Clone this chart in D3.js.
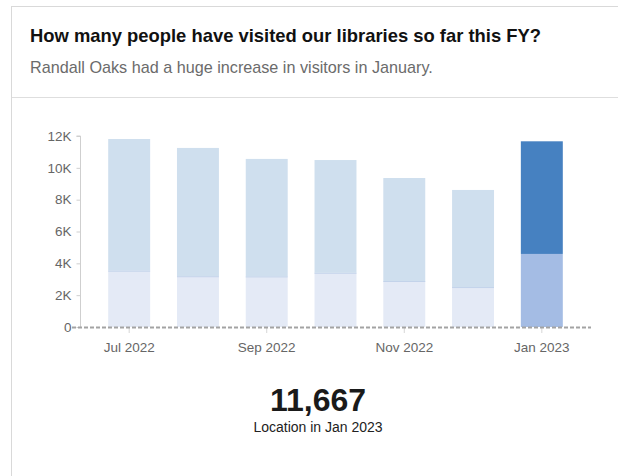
<!DOCTYPE html>
<html>
<head>
<meta charset="utf-8">
<script src="https://cdn.jsdelivr.net/npm/d3@7/dist/d3.min.js"></script>
<style>
  html, body { margin: 0; padding: 0; background: #fff; }
  svg { display: block; font-family: "Liberation Sans", Arial, sans-serif; }
</style>
</head>
<body>
<svg id="chart" width="618" height="476"></svg>
<script>
// Monthly visitor counts, FY to date
const months = ["2022-07", "2022-08", "2022-09", "2022-10", "2022-11", "2022-12", "2023-01"];
const lowerVisits = [3540, 3190, 3180, 3410, 2890, 2510, 4590];
const upperVisits = [8270, 8060, 7380, 7080, 6470, 6100, 7077];
const yTicks = [0, 2000, 4000, 6000, 8000, 10000, 12000];
const xTickMonths = ["2022-07", "2022-09", "2022-11", "2023-01"];
const highlightMonth = "2023-01";

const title = "How many people have visited our libraries so far this FY?";
const subtitle = "Randall Oaks had a huge increase in visitors in January.";
const calloutCaption = "Location in Jan 2023";

const svg = d3.select("#chart");
const W = 618, H = 476;

// card frame and header
svg.append("rect")
  .attr("x", 11.5).attr("y", 6.5)
  .attr("width", W).attr("height", H)
  .attr("fill", "#fff").attr("stroke", "#d9d9d9");
svg.append("line")
  .attr("x1", 12).attr("x2", W).attr("y1", 97.5).attr("y2", 97.5)
  .attr("stroke", "#dedede");
svg.append("text")
  .attr("x", 30).attr("y", 42)
  .attr("font-size", 18.4).attr("font-weight", "bold").attr("fill", "#111")
  .text(title);
svg.append("text")
  .attr("x", 30).attr("y", 73)
  .attr("font-size", 16.2).attr("fill", "#6b6b6b")
  .text(subtitle);

// plot
const parse = d3.timeParse("%Y-%m");
const fmtMonth = d3.timeFormat("%b %Y");
const rows = months.map((m, i) => ({ month: m, lower: lowerVisits[i], upper: upperVisits[i] }));
const stacked = d3.stack().keys(["lower", "upper"])(rows);

const x = d3.scaleBand()
  .domain(months)
  .range([80, 591])
  .paddingInner(0.39)
  .paddingOuter(0.41);
const y = d3.scaleLinear()
  .domain([0, 12000])
  .range([327, 136]);

const fills = {
  lower: { normal: "#e4eaf6", highlight: "#a4bce4" },
  upper: { normal: "#cfdfee", highlight: "#4681c1" }
};

stacked.forEach(layer => {
  const key = layer.key;
  svg.append("g").selectAll("rect")
    .data(layer)
    .join("rect")
    .attr("x", d => x(d.data.month))
    .attr("width", x.bandwidth())
    .attr("y", d => y(d[1]))
    .attr("height", d => y(d[0]) - y(d[1]))
    .attr("fill", d => d.data.month === highlightMonth ? fills[key].highlight : fills[key].normal);
});

// thin divider at the top of the lower segment on the regular bars
svg.append("g").selectAll("line")
  .data(stacked[0].filter(d => d.data.month !== highlightMonth))
  .join("line")
  .attr("x1", d => x(d.data.month))
  .attr("x2", d => x(d.data.month) + x.bandwidth())
  .attr("y1", d => y(d[1]) + 0.5)
  .attr("y2", d => y(d[1]) + 0.5)
  .attr("stroke", "#c3d3ea").attr("stroke-width", 1);

// y axis
const yAxis = svg.append("g")
  .attr("transform", "translate(80.5,0)")
  .call(d3.axisLeft(y).tickValues(yTicks).tickSize(4).tickPadding(5)
    .tickFormat(d => d === 0 ? "0" : d3.format("d")(d / 1000) + "K"));
yAxis.select(".domain").attr("stroke", "#cfcfcf").attr("d", `M-4,${y(12000)}H0V${y(0)}`);
yAxis.selectAll(".tick line").attr("stroke", "#cfcfcf");
yAxis.selectAll(".tick text")
  .attr("fill", "#666").attr("font-size", 13.5)
  .attr("font-family", "Liberation Sans, Arial, sans-serif");

// x axis
const xAxis = svg.append("g")
  .attr("transform", `translate(0,${y(0) + 1})`)
  .call(d3.axisBottom(x).tickValues(xTickMonths).tickSize(5).tickPadding(9)
    .tickFormat(m => fmtMonth(parse(m))));
xAxis.select(".domain").remove();
xAxis.selectAll(".tick line").attr("stroke", "#d6d6d6");
xAxis.selectAll(".tick text")
  .attr("fill", "#666").attr("font-size", 13.5)
  .attr("font-family", "Liberation Sans, Arial, sans-serif");

// dashed zero baseline
svg.append("line")
  .attr("x1", 72).attr("x2", 591)
  .attr("y1", y(0) + 0.5).attr("y2", y(0) + 0.5)
  .attr("stroke", "#a3a3a3").attr("stroke-width", 2)
  .attr("stroke-dasharray", "4,2");

// callout for the highlighted month
const hi = rows.find(r => r.month === highlightMonth);
svg.append("text")
  .attr("x", 318).attr("y", 411)
  .attr("text-anchor", "middle")
  .attr("font-size", 32).attr("font-weight", "bold").attr("fill", "#1a1a1a")
  .text(d3.format(",")(hi.lower + hi.upper));
svg.append("text")
  .attr("x", 318).attr("y", 432)
  .attr("text-anchor", "middle")
  .attr("font-size", 14).attr("fill", "#222")
  .text(calloutCaption);
</script>
</body>
</html>
